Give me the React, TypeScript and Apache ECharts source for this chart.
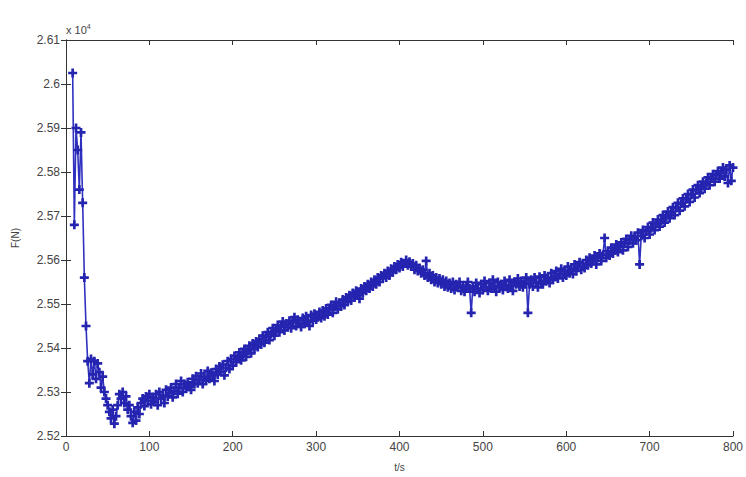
import React, { useEffect, useRef } from "react";
import * as echarts from "echarts";

// Early transient, sampled every 2 s
const timeEarly = [8, 10, 12, 14, 16, 18, 20, 22, 24, 26, 28, 30, 32, 34, 36, 38, 40, 42, 44];
const forceEarly = [26025, 25680, 25900, 25850, 25760, 25890, 25730, 25560, 25450, 25370, 25320, 25375, 25340, 25370, 25330, 25365, 25345, 25310, 25335];

// Main record, from 46 s every 2 s
const timeStart = 46;
const timeStep = 2;
const forceMain = [
  25300, 25285, 25270, 25255, 25240, 25260, 25228, 25245, 25270, 25295,
  25285, 25300, 25275, 25290, 25260, 25270, 25245, 25230, 25255, 25235,
  25265, 25250, 25275, 25285, 25268, 25290, 25280, 25295, 25272, 25288,
  25278, 25295, 25270, 25300, 25285, 25292, 25275, 25305, 25290, 25298,
  25310, 25288, 25302, 25318, 25296, 25310, 25325, 25300, 25318, 25308,
  25322, 25312, 25305, 25330, 25318, 25336, 25320, 25328, 25342, 25318,
  25335, 25326, 25348, 25330, 25344, 25338, 25325, 25352, 25340, 25358,
  25346, 25362, 25338, 25355, 25370, 25352, 25375, 25360, 25382, 25368,
  25378, 25390, 25372, 25385, 25398, 25380, 25394, 25405, 25388, 25410,
  25398, 25415, 25402, 25420, 25408, 25428, 25412, 25425, 25436, 25418,
  25432, 25445, 25428, 25440, 25452, 25436, 25448, 25460, 25440, 25455,
  25448, 25462, 25445, 25458, 25470, 25450, 25464, 25455, 25448, 25468,
  25455, 25472, 25460, 25450, 25475, 25462, 25478, 25465, 25470, 25482,
  25468, 25485, 25472, 25490, 25476, 25488, 25498, 25480, 25494, 25505,
  25488, 25502, 25495, 25510, 25498, 25515, 25505, 25520, 25508, 25525,
  25515, 25530, 25520, 25512, 25535, 25525, 25540, 25530, 25545, 25535,
  25550, 25540, 25555, 25545, 25560, 25550, 25565, 25558, 25570, 25560,
  25575, 25565, 25580, 25572, 25585, 25578, 25590, 25582, 25595, 25585,
  25592, 25600, 25588, 25596, 25585, 25592, 25578, 25588, 25575, 25582,
  25570, 25578, 25565, 25598, 25560, 25570, 25555, 25565, 25550, 25560,
  25548, 25558, 25545, 25555, 25540, 25552, 25538, 25548, 25535, 25550,
  25532, 25545, 25538, 25550, 25530, 25542, 25528, 25540, 25550, 25535,
  25480, 25540, 25528, 25548, 25535, 25525, 25545, 25532, 25552, 25538,
  25530, 25548, 25535, 25555, 25540, 25528, 25550, 25538, 25545, 25532,
  25552, 25540, 25535, 25555, 25542, 25530, 25550, 25545, 25558, 25540,
  25552, 25538, 25548, 25560, 25480, 25545, 25555, 25540, 25560, 25548,
  25538, 25562, 25550, 25545, 25565, 25552, 25560, 25548, 25570, 25555,
  25562, 25575, 25558, 25568, 25580, 25560, 25575, 25565, 25585, 25570,
  25580, 25568, 25590, 25575, 25585, 25595, 25578, 25592, 25582, 25600,
  25588, 25605, 25592, 25598, 25610, 25590, 25605, 25615, 25598, 25612,
  25650, 25605, 25620, 25610, 25628, 25615, 25622, 25635, 25618, 25630,
  25640, 25622, 25638, 25648, 25630, 25645, 25655, 25638, 25652, 25645,
  25662, 25590, 25655, 25668, 25650, 25665, 25675, 25658, 25672, 25685,
  25668, 25682, 25692, 25676, 25690, 25702, 25685, 25698, 25710, 25695,
  25708, 25720, 25702, 25718, 25730, 25712, 25728, 25740, 25722, 25738,
  25750, 25732, 25748, 25760, 25742, 25758, 25770, 25752, 25765, 25778,
  25762, 25775, 25788, 25770, 25785, 25795, 25778, 25792, 25802, 25785,
  25798, 25810, 25790, 25805, 25775, 25815, 25780, 25810,
];

const xTicks = [0, 100, 200, 300, 400, 500, 600, 700, 800];
const yMin = 25200;
const yMax = 26100;
const yInterval = 100;

const plusSymbol = "path://M3.5,0h3v3.5h3.5v3h-3.5v3.5h-3v-3.5h-3.5v-3h3.5z";

export default function App() {
  const ref = useRef<HTMLDivElement>(null);
  useEffect(() => {
    document.body.style.margin = "0";
    if (!ref.current) return;
    const chart = echarts.init(ref.current, null, { renderer: "svg" });
    const points: number[][] = [];
    timeEarly.forEach((t, i) => points.push([t, forceEarly[i]]));
    forceMain.forEach((v, i) => points.push([timeStart + i * timeStep, v]));

    const font = "'Liberation Sans Narrow', 'Liberation Sans', Arial, sans-serif";
    const axisCommon = {
      axisLine: { show: true, lineStyle: { color: "#333", width: 1 } },
      axisTick: { show: true, inside: true, length: 5, lineStyle: { color: "#333" } },
      splitLine: { show: false },
    };

    chart.setOption({
      animation: false,
      backgroundColor: "#ffffff",
      grid: { left: 66, right: 11, top: 40, bottom: 41, containLabel: false },
      xAxis: [
        {
          type: "value",
          min: xTicks[0],
          max: xTicks[xTicks.length - 1],
          interval: 100,
          position: "bottom",
          ...axisCommon,
          axisLabel: { color: "#444", fontSize: 12, fontFamily: font, margin: 5 },
          name: "t/s",
          nameLocation: "middle",
          nameGap: 26,
          nameTextStyle: { color: "#444", fontSize: 10, fontFamily: font },
        },
        {
          type: "value",
          min: xTicks[0],
          max: xTicks[xTicks.length - 1],
          interval: 100,
          position: "top",
          ...axisCommon,
          axisLabel: { show: false },
        },
      ],
      yAxis: [
        {
          type: "value",
          min: yMin,
          max: yMax,
          interval: yInterval,
          position: "left",
          ...axisCommon,
          axisLabel: {
            color: "#444",
            fontSize: 12,
            fontFamily: font,
            margin: 6,
            formatter: (v: number) => String(+(v / 10000).toFixed(2)),
          },
          name: "F(N)",
          nameLocation: "middle",
          nameGap: 46,
          nameRotate: 90,
          nameTextStyle: { color: "#444", fontSize: 10, fontFamily: font },
        },
        {
          type: "value",
          min: yMin,
          max: yMax,
          interval: yInterval,
          position: "right",
          ...axisCommon,
          axisLabel: { show: false },
        },
      ],
      graphic: [
        {
          type: "text",
          left: 66,
          top: 23,
          style: {
            text: "x 10{s|4}",
            fill: "#444",
            font: `11px ${font}`,
            rich: { s: { fontSize: 7, verticalAlign: "top", padding: [0, 0, 6, 0], fill: "#444" } },
          },
        },
      ],
      series: [
        {
          type: "line",
          xAxisIndex: 0,
          yAxisIndex: 0,
          data: points,
          symbol: plusSymbol,
          symbolSize: 9,
          showSymbol: true,
          lineStyle: { color: "#3030c0", width: 1.6 },
          itemStyle: { color: "#2424b0" },
        },
      ],
    });
    return () => chart.dispose();
  }, []);
  return <div ref={ref} style={{ width: 746, height: 477 }} />;
}
